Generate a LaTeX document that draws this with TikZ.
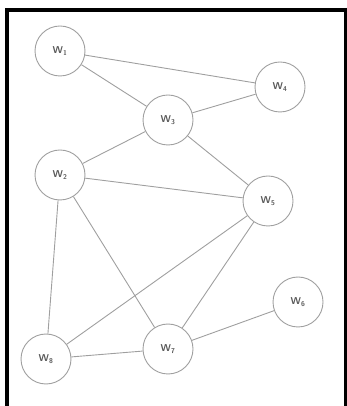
\documentclass[tikz,border=0pt]{standalone}
\usetikzlibrary{positioning}

\begin{document}
\begin{tikzpicture}[x=1pt,y=1pt]
    \useasboundingbox (0,0) rectangle (347,406);
    % open frame, no bottom side
    \draw[line width=4pt] (7,0) -- (7,396) -- (346,396);
    \draw[line width=3pt] (345.5,398) -- (345.5,0);
    \begin{scope}[every node/.style={circle,draw=gray!75,line width=0.9pt,
        minimum size=50pt,inner sep=0pt,font=\sffamily\bfseries,text=black!65}]
      \node (w1) at (60, 355) {W\textsubscript{1}};
      \node (w4) at (280, 319) {W\textsubscript{4}};
      \node (w3) at (168, 286) {W\textsubscript{3}};
      \node (w2) at (60, 231) {W\textsubscript{2}};
      \node (w5) at (268, 205) {W\textsubscript{5}};
      \node (w6) at (298, 104) {W\textsubscript{6}};
      \node (w7) at (168, 57) {W\textsubscript{7}};
      \node (w8) at (46, 47) {W\textsubscript{8}};
    \end{scope}
    \begin{scope}[gray!75,line width=0.9pt]
      \path (w1) edge (w4);
      \path (w1) edge (w3);
      \path (w3) edge (w4);
      \path (w3) edge (w2);
      \path (w3) edge (w5);
      \path (w2) edge (w5);
      \path (w2) edge (w8);
      \path (w2) edge (w7);
      \path (w5) edge (w8);
      \path (w5) edge (w7);
      \path (w7) edge (w6);
      \path (w8) edge (w7);
    \end{scope}
\end{tikzpicture}
\end{document}
